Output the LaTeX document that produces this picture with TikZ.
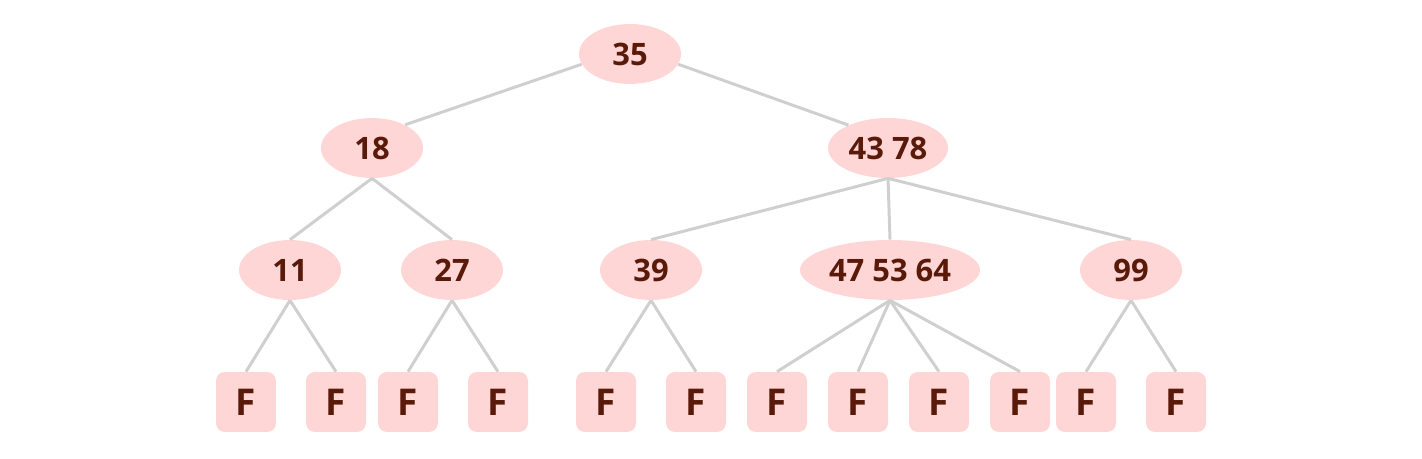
\documentclass[tikz,border=0pt]{standalone}
\usepackage{fontspec}
\setmainfont{Open Sans}
\usetikzlibrary{shapes.geometric}
\definecolor{keyfill}{HTML}{FFD6D6}
\definecolor{keytext}{HTML}{5A1A0A}
\definecolor{edgegray}{HTML}{CFCFCF}

\begin{document}
\begin{tikzpicture}[x=0.02cm, y=-0.02cm,
    key/.style={ellipse, fill=keyfill, text=keytext, inner sep=0pt,
        minimum width=2.04cm, minimum height=1.2cm,
        font=\bfseries\fontsize{17.6}{20}\selectfont},
    leaf/.style={rectangle, rounded corners=5pt, fill=keyfill, text=keytext,
        minimum size=1.2cm, inner sep=0pt,
        font=\bfseries\fontsize{21}{24}\selectfont},
    link/.style={draw=edgegray, line width=1.7pt}]
\useasboundingbox (0,0) rectangle (1422,459);

% internal nodes
\node[key] (n35) at (630,54) {35};
\node[key] (n18) at (372,148) {18};
\node[key, minimum width=2.4cm] (n4378) at (888,148) {43 78};
\node[key] (n11) at (290,270) {11};
\node[key] (n27) at (452,270) {27};
\node[key] (n39) at (651,270) {39};
\node[key, minimum width=3.6cm] (n475364) at (890,270) {47 53 64};
\node[key] (n99) at (1131,270) {99};

% leaves
\foreach \x/\n in {246/f1,336/f2,408/f3,498/f4,606/f5,696/f6,777/f7,858/f8,939/f9,1020/f10,1086/f11,1176/f12}
    \node[leaf] (\n) at (\x,402) {F};

\draw[link] (n35.192) -- (n18.35);
\draw[link] (n35.348) -- (n4378.150);
\foreach \a/\b in {n18/n11,n18/n27,n4378/n39,n4378/n475364,n4378/n99,
    n11/f1,n11/f2,n27/f3,n27/f4,n39/f5,n39/f6,
    n475364/f7,n475364/f8,n475364/f9,n475364/f10,n99/f11,n99/f12}
    \draw[link] (\a.south) -- (\b.north);
\end{tikzpicture}
\end{document}
